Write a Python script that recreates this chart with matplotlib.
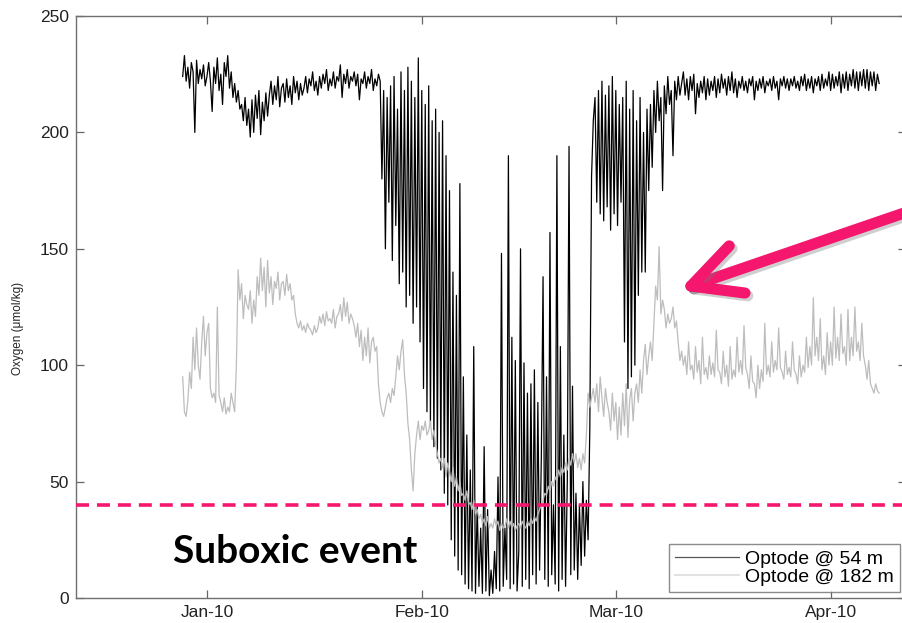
"""Oxygen at two optode depths, Dec 2009 - Apr 2010, with the suboxic threshold."""

import matplotlib

matplotlib.use("Agg")
import matplotlib.dates as mdates
import matplotlib.patheffects as pe
import matplotlib.pyplot as plt
import pandas as pd

# one reading every 6 h, first reading 28 Dec 2009 12:00
START = "2009-12-28 12:00"
STEP = "6h"
XLIM = ("2009-12-13 02:30", "2010-04-11 21:00")
SUBOXIC = 40  # umol/kg

# Optode @ 54 m (umol/kg), month by month
o54_dec = [224, 233, 222, 228, 219, 230, 226, 200, 231, 221, 227, 223, 229, 220]
o54_jan = [
    224, 230, 222, 209, 228, 221, 232, 218, 225, 212, 230, 224,
    233, 219, 226, 215, 221, 213, 218, 210, 212, 205, 215, 203,
    210, 198, 214, 200, 216, 206, 218, 199, 213, 205, 217, 207,
    216, 222, 212, 220, 214, 224, 211, 219, 221, 213, 223, 215,
    220, 212, 224, 217, 222, 214, 221, 216, 219, 224, 217, 223,
    220, 226, 218, 222, 216, 224, 219, 225, 221, 227, 218, 223,
    220, 226, 219, 224, 222, 229, 215, 225, 221, 227, 219, 224,
    222, 226, 220, 225, 214, 223, 221, 226, 219, 224, 221, 227,
    218, 223, 220, 225, 222, 180, 218, 150, 215, 170, 220, 145,
    224, 160, 210, 135, 226, 140, 218, 125, 228, 130, 222, 118,
    215, 125, 232, 110,
]
o54_feb = [
    218, 90, 212, 80, 220, 75, 205, 65, 210, 60, 200, 55,
    205, 45, 190, 40, 175, 25, 140, 18, 130, 12, 178, 10,
    95, 6, 70, 4, 55, 3, 108, 2, 40, 5, 30, 2,
    65, 3, 38, 1, 12, 2, 20, 4, 52, 3, 148, 5,
    30, 8, 190, 4, 112, 6, 102, 3, 20, 150, 5, 101,
    8, 88, 4, 92, 10, 98, 6, 84, 12, 60, 138, 8,
    95, 5, 157, 10, 40, 6, 190, 3, 108, 8, 70, 5,
    50, 194, 10, 91, 12, 45, 8, 40, 14, 50, 18, 42,
    25, 73, 181, 205, 215, 170, 218, 165, 222, 162, 216, 168,
    220, 158, 224, 165,
]
o54_mar = [
    218, 160, 212, 170, 215, 110, 222, 90, 210, 95, 218, 100,
    205, 130, 215, 140, 200, 140, 210, 175, 212, 185, 218, 200,
    222, 205, 215, 175, 220, 208, 224, 212, 218, 190, 222, 214,
    224, 216, 221, 226, 216, 223, 214, 224, 218, 225, 208, 221,
    215, 222, 217, 224, 214, 223, 216, 222, 218, 224, 215, 223,
    217, 225, 219, 223, 216, 224, 218, 226, 217, 223, 215, 222,
    219, 224, 218, 222, 217, 223, 220, 224, 214, 222, 218, 223,
    219, 224, 217, 222, 220, 223, 218, 224, 219, 222, 214, 223,
    220, 224, 219, 223, 218, 223, 220, 224, 219, 222, 218, 224,
    220, 225, 218, 223, 219, 224, 217, 223, 220, 224, 218, 225,
    219, 223, 220, 226,
]
o54_apr = [
    218, 225, 219, 224, 220, 226, 217, 225, 219, 226, 218, 225,
    220, 227, 219, 226, 218, 226, 220, 227, 219, 227, 218, 226,
    220, 226, 218, 225, 221,
]

# Optode @ 182 m (umol/kg)
o182_dec = [95, 80, 78, 85, 97, 90, 112, 98, 116, 100, 94, 110, 121, 104]
o182_jan = [
    114, 118, 90, 86, 88, 84, 125, 87, 84, 80, 86, 79,
    82, 80, 88, 84, 80, 100, 141, 128, 135, 120, 130, 126,
    124, 132, 118, 128, 121, 138, 130, 146, 132, 142, 125, 145,
    131, 138, 126, 136, 133, 140, 128, 135, 136, 130, 139, 132,
    135, 128, 130, 122, 118, 116, 119, 115, 117, 114, 118, 116,
    115, 113, 117, 114, 116, 121, 118, 122, 117, 123, 119, 120,
    118, 124, 116, 121, 122, 126, 119, 129, 121, 127, 118, 122,
    120, 117, 112, 118, 108, 115, 102, 112, 104, 116, 101, 110,
    112, 106, 108, 92, 84, 80, 78, 82, 86, 88, 84, 90,
    87, 95, 104, 98, 106, 111, 96, 88, 75, 68, 55, 46,
    62, 70, 76, 68,
]
o182_feb = [
    74, 72, 76, 70, 72, 76, 68, 72, 66, 62, 58, 60,
    56, 60, 52, 58, 54, 50, 56, 48, 52, 46, 50, 44,
    45, 42, 46, 40, 41, 38, 42, 36, 38, 34, 36, 32,
    34, 31, 35, 30, 32, 30, 34, 31, 33, 29, 32, 30,
    31, 34, 30, 33, 30, 32, 29, 31, 32, 30, 33, 31,
    30, 33, 31, 34, 32, 35, 33, 36, 38, 40, 42, 45,
    44, 48, 46, 50, 48, 52, 50, 55, 52, 56, 54, 58,
    55, 60, 57, 62, 58, 62, 56, 60, 55, 62, 58, 70,
    88, 82, 86, 90, 84, 92, 80, 95, 86, 78, 90, 84,
    80, 72, 88, 76,
]
o182_mar = [
    84, 68, 82, 70, 88, 74, 92, 69, 85, 90, 76, 88,
    92, 84, 98, 88, 102, 109, 96, 104, 110, 102, 118, 134,
    128, 151, 122, 128, 124, 116, 122, 118, 120, 125, 116, 119,
    110, 102, 106, 100, 104, 96, 110, 98, 100, 94, 108, 97,
    102, 92, 112, 96, 99, 94, 104, 96, 101, 95, 115, 98,
    97, 92, 106, 95, 100, 91, 108, 94, 98, 95, 112, 97,
    102, 96, 117, 99, 96, 90, 104, 93, 92, 86, 100, 90,
    98, 93, 118, 96, 100, 95, 110, 97, 102, 98, 116, 99,
    97, 94, 106, 96, 99, 95, 110, 98, 96, 92, 104, 95,
    100, 97, 112, 99, 108, 100, 129, 104, 112, 102, 120, 98,
    104, 96, 114, 100,
]
o182_apr = [
    110, 100, 125, 103, 112, 102, 122, 105, 108, 100, 124, 102,
    112, 104, 125, 106, 110, 102, 118, 104, 100, 94, 102, 92,
    90, 88, 92, 89, 88,
]

PINK = "#f5166e"


def series(*months):
    vals = [v for m in months for v in m]
    return pd.Series(vals, index=pd.date_range(START, periods=len(vals), freq=STEP))


def main() -> None:
    o54 = series(o54_dec, o54_jan, o54_feb, o54_mar, o54_apr)
    o182 = series(o182_dec, o182_jan, o182_feb, o182_mar, o182_apr)

    plt.rcParams["font.family"] = ["Liberation Sans", "DejaVu Sans"]
    fig = plt.figure(figsize=(9.02, 6.23), dpi=100)
    # right spine sits just outside the picture, as in the original crop
    ax = fig.add_axes([76 / 902, 25 / 623, 830 / 902, 582 / 623])

    ax.plot(o54.index, o54.values, color="black", lw=0.9, label="Optode @ 54 m")
    ax.plot(o182.index, o182.values, color="#bdbdbd", lw=0.9, label="Optode @ 182 m")
    ax.axhline(SUBOXIC, color=PINK, lw=2.6, dashes=(3.6, 2.2), zorder=5)

    ax.set_xlim(pd.Timestamp(XLIM[0]), pd.Timestamp(XLIM[1]))
    ax.set_ylim(0, 250)
    ax.set_yticks(range(0, 251, 50))
    ax.xaxis.set_major_locator(mdates.MonthLocator())
    ax.xaxis.set_major_formatter(mdates.DateFormatter("%b-%y"))
    ax.tick_params(direction="in", top=True, right=True, length=5.5, width=0.9,
                   color="#666666", labelsize=12.5, labelcolor="#222222", pad=5)
    for s in ax.spines.values():
        s.set_color("#707070")
        s.set_linewidth(1.0)

    ax.set_ylabel("Oxygen (\u03bcmol/kg)", fontsize=8.5, color="#222222")
    ax.yaxis.set_label_coords(-0.063, 0.464)

    leg = ax.legend(loc="lower right", bbox_to_anchor=(900 / 902, 31 / 623),
                    bbox_transform=fig.transFigure, fontsize=14, frameon=True,
                    fancybox=False, edgecolor="#707070", borderpad=0.32,
                    labelspacing=0.0, handlelength=3.3, handletextpad=0.3,
                    borderaxespad=0)
    leg.get_frame().set_linewidth(1.0)
    leg.get_lines()[0].set_color("#555555")
    leg.get_lines()[1].set_color("#e2e2e2")
    leg.get_lines()[1].set_linewidth(1.5)

    ax.text(0.117, 0.060, "Suboxic event", transform=ax.transAxes,
            fontsize=28, fontweight="bold", family="Lato", color="black",
            ha="left", va="baseline", zorder=6)

    # pink pointer towards the 182 m rebound
    vertex = (0.741, 0.536)
    shadow = [pe.SimpleLineShadow(offset=(2, -2), shadow_color="#777777", alpha=0.35),
              pe.Normal()]
    for end in [(1.011, 0.668), (0.787, 0.605), (0.806, 0.524)]:
        ax.plot([vertex[0], end[0]], [vertex[1], end[1]], transform=ax.transAxes,
                color=PINK, lw=8, solid_capstyle="round", clip_on=False,
                zorder=7, path_effects=shadow)

    fig.savefig("out.png", dpi=100)


if __name__ == "__main__":
    main()
